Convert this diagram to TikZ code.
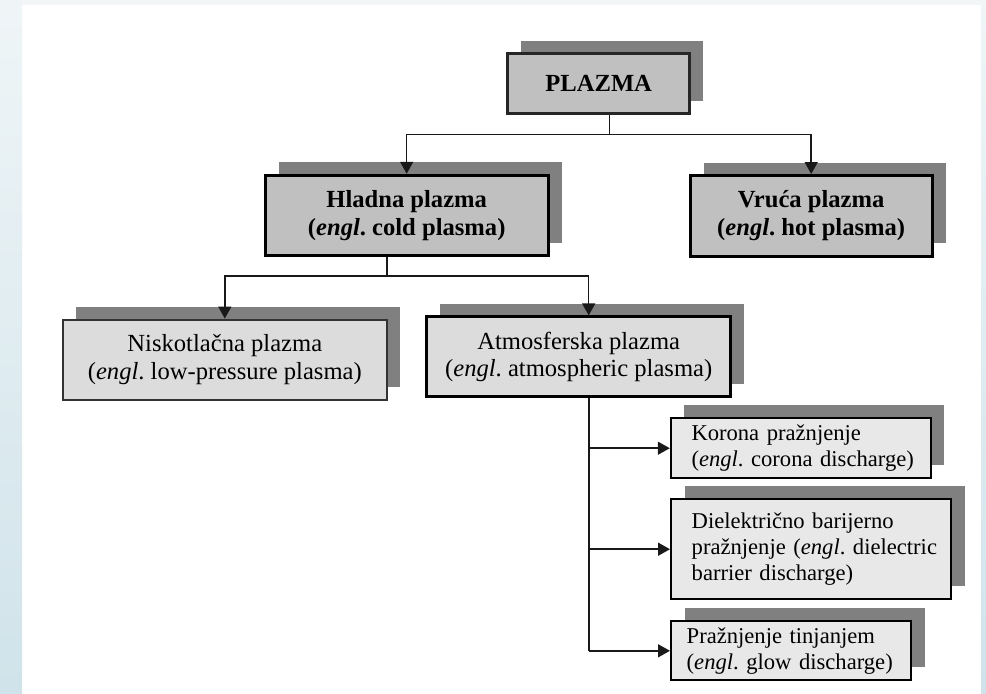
\documentclass[tikz,border=0pt]{standalone}
\usepackage{fontspec}
\setmainfont{Liberation Serif}
\usetikzlibrary{shadows,arrows.meta,calc}
\definecolor{shadowgray}{HTML}{808080}
\definecolor{boxA}{HTML}{C0C0C0}
\definecolor{boxB}{HTML}{DCDCDC}
\definecolor{boxC}{HTML}{E8E8E8}
\definecolor{bgtop}{HTML}{EFF5F7}
\definecolor{bgbot}{HTML}{D0E3EA}
\definecolor{bgstrip}{HTML}{F2F6F7}
\frenchspacing
\begin{document}
\begin{tikzpicture}[x=0.5pt,y=-0.5pt,
  sh/.style={drop shadow={shadow xshift=6.75pt,shadow yshift=6.5pt,opacity=1,fill=shadowgray}},
  topbox/.style={sh, draw=black, line width=1.5pt, fill=boxA, align=center,
    font=\fontsize{12.3}{14}\selectfont\bfseries\frenchspacing, inner sep=0pt},
  midbox/.style={sh, draw=black, line width=1.4pt, fill=boxB, align=center,
    font=\fontsize{12.3}{13.85}\selectfont\frenchspacing, inner sep=0pt},
  lowbox/.style={sh, draw=black, line width=1pt, fill=boxC, align=left,
    font=\fontsize{11.3}{12.9}\selectfont\frenchspacing, inner ysep=0pt},
  conn/.style={draw=black!90, line width=0.75pt},
  arr/.style={conn, -{Triangle[width=6.5pt,length=6pt]}},
]
% background
\useasboundingbox (0,0) rectangle (986,693);
\fill[white] (0,0) rectangle (986,693);
\fill[bgstrip] (0,0) rectangle (986,5);
\shade[top color=bgtop,bottom color=bgbot] (0,0) rectangle (22,693);
\shade[top color=bgtop,bottom color=bgbot] (981,5) rectangle (986,693);

% nodes
\node[topbox, draw=black!85, minimum width=91pt, minimum height=30pt] (plazma) at (598.7,83.5) {PLAZMA};
\node[topbox, minimum width=141.5pt, minimum height=40.25pt] (hladna) at (406.7,215.5)
  {Hladna plazma\\(\textit{engl}. cold plasma)};
\node[topbox, minimum width=121pt, minimum height=40.25pt] (vruca) at (811.2,215.8)
  {Vruća plazma\\(\textit{engl}. hot plasma)};
\node[midbox, draw=black!80, line width=1pt, minimum width=162pt, minimum height=40.25pt] (nisko) at (224.8,359.8)
  {Niskotlačna plazma\\(\textit{engl}. low-pressure plasma)};
\node[midbox, minimum width=152pt, minimum height=40pt] (atmos) at (578.7,356.8)
  {Atmosferska plazma\\(\textit{engl}. atmospheric plasma)};
\node[lowbox, inner xsep=10.35pt, text width=109.3pt, minimum height=30pt] (korona) at (800.8,448.2)
  {\mbox{Korona pražnjenje}\\\mbox{(\textit{engl}. corona discharge)}};
\node[lowbox, inner xsep=10.35pt, text width=119.5pt, minimum height=50pt] (dielek) at (811.2,549.2)
  {\mbox{Dielektrično barijerno}\\\mbox{pražnjenje (\textit{engl}. dielectric}\\\mbox{barrier discharge)}};
\node[lowbox, inner xsep=7.85pt, text width=104.5pt, minimum height=29.5pt] (praz) at (791.2,650.8)
  {\mbox{Pražnjenje tinjanjem}\\\mbox{(\textit{engl}. glow discharge)}};

% connectors
\coordinate (pj) at (609.3,134.7);
\draw[conn] (plazma.south -| pj) -- (pj);
\draw[arr] (pj) -| (hladna.north);
\draw[arr] (pj) -| (vruca.north);

\coordinate (hj) at (387,276);
\coordinate (aj) at (588.7,276);
\draw[conn] (hladna.south -| hj) -- (hj);
\draw[arr] (hj) -| (nisko.north);
\draw[arr] (hj) -- (aj) -- (aj |- atmos.north);

\coordinate (av) at (589,0);
\draw[conn] (atmos.south -| av) -- (praz.west -| av);
\draw[arr] (korona.west -| av) -- (korona.west);
\draw[arr] (dielek.west -| av) -- (dielek.west);
\draw[arr] (praz.west -| av) -- (praz.west);
\end{tikzpicture}
\end{document}
